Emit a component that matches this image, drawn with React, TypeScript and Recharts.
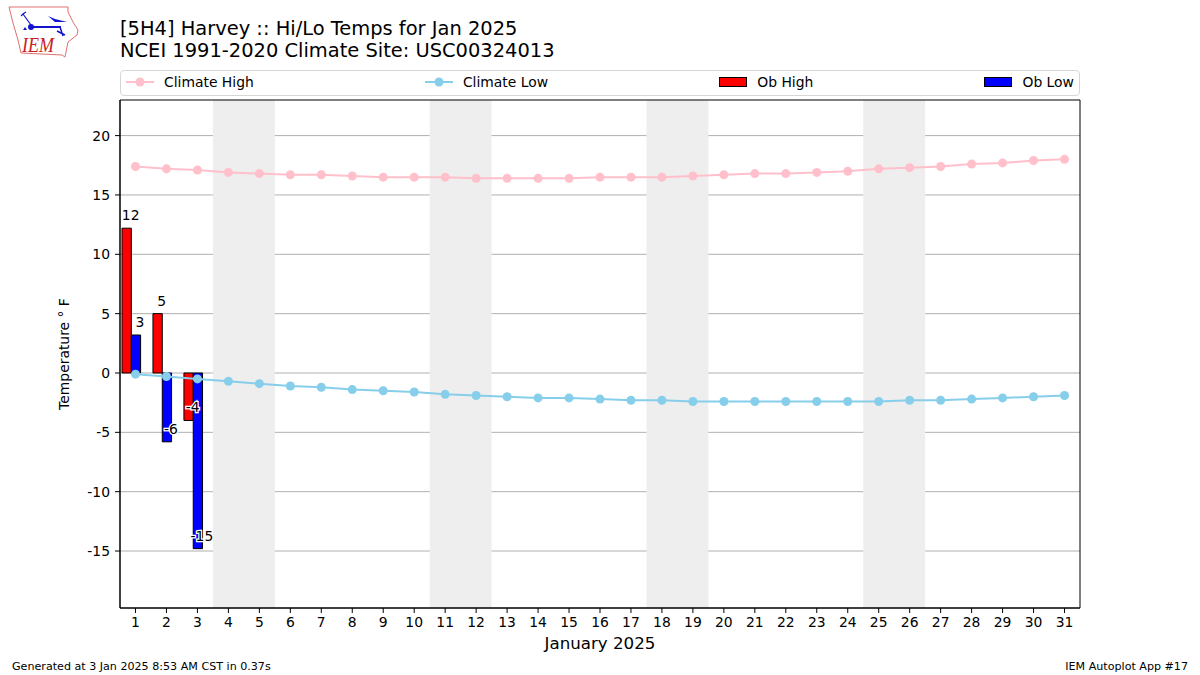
import { Bar, CartesianGrid, ComposedChart, LabelList, Legend, Line, ReferenceArea, XAxis, YAxis } from "recharts";

const FONT = "'DejaVu Sans', sans-serif";

const days = [1, 2, 3, 4, 5, 6, 7, 8, 9, 10, 11, 12, 13, 14, 15, 16, 17, 18, 19, 20, 21, 22, 23, 24, 25, 26, 27, 28, 29, 30, 31];
const climateHigh = [17.4, 17.2, 17.1, 16.9, 16.8, 16.7, 16.7, 16.6, 16.5, 16.5, 16.5, 16.4, 16.4, 16.4, 16.4, 16.5, 16.5, 16.5, 16.6, 16.7, 16.8, 16.8, 16.9, 17.0, 17.2, 17.3, 17.4, 17.6, 17.7, 17.9, 18.0];
const climateLow = [-0.1, -0.3, -0.5, -0.7, -0.9, -1.1, -1.2, -1.4, -1.5, -1.6, -1.8, -1.9, -2.0, -2.1, -2.1, -2.2, -2.3, -2.3, -2.4, -2.4, -2.4, -2.4, -2.4, -2.4, -2.4, -2.3, -2.3, -2.2, -2.1, -2.0, -1.9];
const obHigh = [12.2, 5.0, -4.0];
const obLow = [3.2, -5.8, -14.8];
const obHighLabels = ["12", "5", "-4"];
const obLowLabels = ["3", "-6", "-15"];
const weekends = [[3.5, 5.5], [10.5, 12.5], [17.5, 19.5], [24.5, 26.5]];
const yTicks = [-15, -10, -5, 0, 5, 10, 15, 20];
const xDomain = [0.5, 31.5];
const yDomain = [-19.8, 23];

const data = days.map((day, i) => ({
  day,
  climateHigh: climateHigh[i],
  climateLow: climateLow[i],
  obHigh: obHigh[i],
  obLow: obLow[i],
  obHighLabel: obHighLabels[i],
  obLowLabel: obLowLabels[i],
}));

const legendItems = [
  { name: "Climate High", color: "pink", kind: "line" },
  { name: "Climate Low", color: "skyblue", kind: "line" },
  { name: "Ob High", color: "red", kind: "bar" },
  { name: "Ob Low", color: "blue", kind: "bar" },
];

const ChartLegend = () => (
  <div
    style={{
      display: "flex",
      justifyContent: "space-between",
      alignItems: "center",
      boxSizing: "border-box",
      width: 960,
      height: 26,
      padding: "0 5px 2px",
      border: "1px solid #d6d6d6",
      borderRadius: 4,
      background: "#fff",
      fontFamily: FONT,
      fontSize: 13.9,
      color: "#000",
    }}
  >
    {legendItems.map((item) => (
      <div key={item.name} style={{ display: "flex", alignItems: "center" }}>
        <svg width={28} height={14} style={{ marginRight: 10 }}>
          {item.kind === "line" ? (
            <g>
              <line x1={0} x2={28} y1={7} y2={7} stroke={item.color} strokeWidth={2} />
              <circle cx={14} cy={7} r={4.5} fill={item.color} />
            </g>
          ) : (
            <rect x={0.5} y={2.5} width={27} height={9} fill={item.color} stroke="#000" />
          )}
        </svg>
        <span>{item.name}</span>
      </div>
    ))}
  </div>
);

const BarValue = ({ x, y, width, height, value }: any) => {
  if (value === undefined || value === null) return null;
  const negative = value.startsWith("-");
  const edge = negative ? Math.max(y, y + height) : Math.min(y, y + height);
  return (
    <text
      x={x + width / 2 + 4}
      y={edge - 13}
      textAnchor="middle"
      dominantBaseline="central"
      fontFamily={FONT}
      fontSize={13.9}
      fill="#000"
      stroke={negative ? "#fff" : "none"}
      strokeWidth={2.5}
      paintOrder="stroke"
    >
      {value}
    </text>
  );
};

const Logo = () => (
  <svg width={80} height={60} style={{ position: "absolute", left: 5, top: 2 }}>
    <path
      d="M4 5 L63 5 L63 10 L68 20 L73 28 L72 33 L63 40 L61 50 L60 55 L57 53 L16 51 L13 38 L8 21 Z"
      fill="#fff"
      stroke="#e07070"
      strokeWidth={1}
    />
    <path d="M27 25 L56 25" stroke="#1414d0" strokeWidth={2} fill="none" />
    <circle cx={26} cy={25} r={3} fill="#1414d0" />
    <path d="M43 14 L50 17 L62 20 L50 20 Z" fill="#1414d0" />
    <path d="M26 23 L18 12 L21 10 M18 12 L16 14" stroke="#1414d0" strokeWidth={1.2} fill="none" />
    <path d="M55 25 L58 34 M52 29 L60 33" stroke="#1414d0" strokeWidth={1.5} fill="none" />
    <path d="M18 28 L20 25 L22 28 Z" fill="#1414d0" />
    <text x={17} y={50} textLength={32} lengthAdjust="spacingAndGlyphs" fontFamily="'Liberation Serif', serif" fontStyle="italic" fontSize={21} fill="#cc2020">
      IEM
    </text>
  </svg>
);

export default function App() {
  return (
    <div style={{ position: "absolute", left: 0, top: 0, width: 1200, height: 675, background: "#fff", fontFamily: FONT, overflow: "hidden" }}>
      <Logo />
      <div style={{ position: "absolute", left: 120, top: 18, fontSize: 19.45, lineHeight: "22px", color: "#000", whiteSpace: "nowrap" }}>
        <div>[5H4] Harvey :: Hi/Lo Temps for Jan 2025</div>
        <div>NCEI 1991-2020 Climate Site: USC00324013</div>
      </div>
      <ComposedChart
        width={1200}
        height={675}
        data={data}
        margin={{ top: 74, right: 120, bottom: 0, left: 60 }}
        barSize={9.3}
        barGap={0}
        style={{ position: "absolute", left: 0, top: 0 }}
      >
        <CartesianGrid horizontal vertical={false} stroke="#b0b0b0" strokeWidth={1} syncWithTicks yAxisId="temp" />
        <XAxis
          dataKey="day"
          interval={0}
          height={67}
          tickSize={5}
          tickMargin={4}
          tick={{ fill: "#000", fontSize: 13.9, fontFamily: FONT }}
          stroke="#000"
          padding={{ left: 0, right: 0 }}
          label={{ value: "January 2025", position: "insideBottom", offset: 26, fill: "#000", fontSize: 16.67, fontFamily: FONT }}
        />
        <XAxis xAxisId="span" dataKey="day" type="number" domain={xDomain} allowDataOverflow hide />
        <YAxis
          yAxisId="temp"
          type="number"
          domain={yDomain}
          ticks={yTicks}
          interval={0}
          width={60}
          tickSize={5}
          tickMargin={5}
          tick={{ fill: "#000", fontSize: 13.9, fontFamily: FONT }}
          stroke="#000"
          allowDataOverflow
          label={{ value: "Temperature\u00a0° F", angle: -90, position: "insideLeft", offset: 4, fill: "#000", fontSize: 13.9, fontFamily: FONT, style: { textAnchor: "middle" } }}
        />
        {weekends.map(([from, to]) => (
          <ReferenceArea key={from} xAxisId="span" yAxisId="temp" x1={from} x2={to} fill="#eeeeee" fillOpacity={1} stroke="none" />
        ))}
        <Bar yAxisId="temp" dataKey="obHigh" name="Ob High" fill="red" stroke="#000" strokeWidth={1} isAnimationActive={false}>
          <LabelList dataKey="obHighLabel" content={<BarValue />} />
        </Bar>
        <Bar yAxisId="temp" dataKey="obLow" name="Ob Low" fill="blue" stroke="#000" strokeWidth={1} isAnimationActive={false}>
          <LabelList dataKey="obLowLabel" content={<BarValue />} />
        </Bar>
        <Bar yAxisId="temp" dataKey="spacer" legendType="none" isAnimationActive={false} />
        <Line yAxisId="temp" dataKey="climateHigh" name="Climate High" stroke="pink" strokeWidth={2} dot={{ r: 4.5, fill: "pink", stroke: "pink", strokeWidth: 0 }} isAnimationActive={false} />
        <Line yAxisId="temp" dataKey="climateLow" name="Climate Low" stroke="skyblue" strokeWidth={2} dot={{ r: 4.5, fill: "skyblue", stroke: "skyblue", strokeWidth: 0 }} isAnimationActive={false} />
        <ReferenceArea xAxisId="span" yAxisId="temp" x1={xDomain[0]} x2={xDomain[1]} y1={yDomain[0]} y2={yDomain[1]} fill="none" stroke="#000" strokeWidth={1} />
        <Legend content={<ChartLegend />} layout="horizontal" verticalAlign="top" wrapperStyle={{ position: "absolute", left: 120, top: 70, width: 960 }} />
      </ComposedChart>
      <div style={{ position: "absolute", left: 12, top: 660, fontSize: 11.11, color: "#000" }}>Generated at 3 Jan 2025 8:53 AM CST in 0.37s</div>
      <div style={{ position: "absolute", right: 12, top: 660, fontSize: 11.11, color: "#000" }}>IEM Autoplot App #17</div>
    </div>
  );
}
